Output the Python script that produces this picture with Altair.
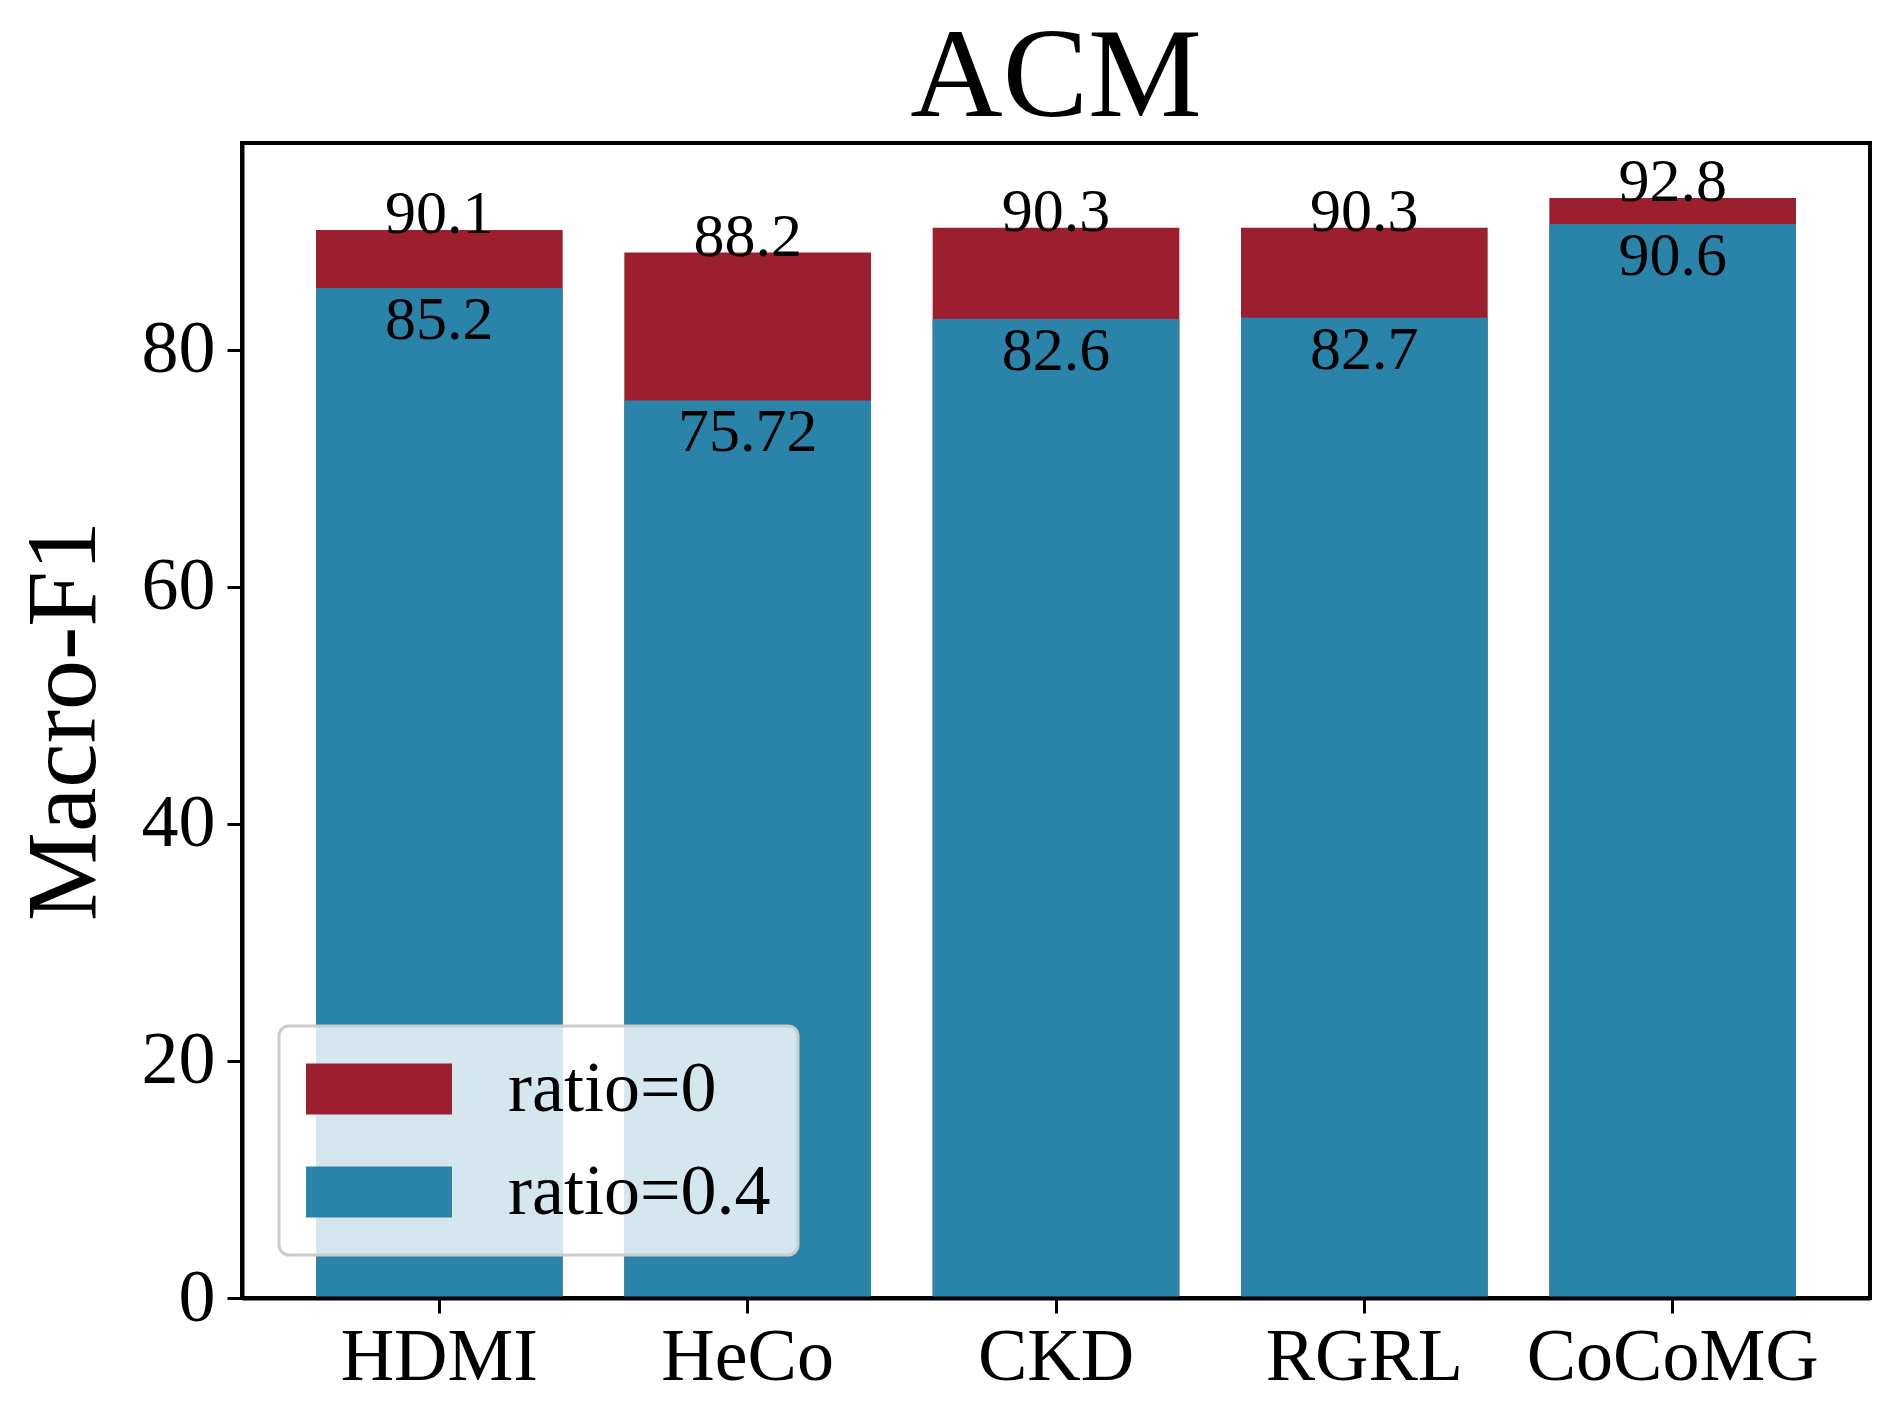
import altair as alt
import pandas as pd

methods = ["HDMI", "HeCo", "CKD", "RGRL", "CoCoMG"]
ratio0 = [90.1, 88.2, 90.3, 90.3, 92.8]
ratio04 = [85.2, 75.72, 82.6, 82.7, 90.6]
series_names = ["ratio=0", "ratio=0.4"]
series_colors = ["#9c1f30", "#2a84aa"]

rows = []
for m, v in zip(methods, ratio0):
    rows.append({"method": m, "series": "ratio=0", "value": v, "label": f"{v:g}"})
for m, v in zip(methods, ratio04):
    rows.append({"method": m, "series": "ratio=0.4", "value": v, "label": f"{v:g}"})
df = pd.DataFrame(rows)

FONT = "Liberation Serif"

x_enc = alt.X("method:N", sort=methods,
              scale=alt.Scale(paddingInner=0.2, paddingOuter=0.24),
              axis=alt.Axis(title=None, labelAngle=0, labelFontSize=74, labelFont=FONT,
                            labelColor="black", labelLimit=1000, tickSize=15, tickWidth=3,
                            tickColor="black", labelPadding=8, domainColor="black",
                            domainWidth=4, zindex=1))
y_enc = alt.Y("value:Q", stack=None,
              scale=alt.Scale(domain=[0, 97.44], nice=False),
              axis=alt.Axis(title="Macro-F1", values=[0, 20, 40, 60, 80], grid=False,
                            labelFontSize=74, labelFont=FONT, labelColor="black",
                            tickSize=15, tickWidth=3, tickColor="black", labelPadding=12,
                            titleFontSize=100, titleFont=FONT, titleFontWeight="normal",
                            titleColor="black", titlePadding=26, titleLimit=2000,
                            domainColor="black", domainWidth=4, zindex=1))

bars = alt.Chart(df).mark_bar().encode(
    x=x_enc,
    y=y_enc,
    color=alt.Color("series:N",
                    scale=alt.Scale(domain=series_names, range=series_colors),
                    legend=alt.Legend(title=None, orient="none", legendX=37, legendY=883,
                                      symbolType="M-14.6,-5.1L14.6,-5.1L14.6,5.1L-14.6,5.1Z",
                                      symbolSize=100, symbolStrokeWidth=0, symbolOpacity=1,
                                      symbolOffset=37, labelOffset=93, labelLimit=1000,
                                      labelFontSize=72, labelFont=FONT, labelColor="black",
                                      rowPadding=31, padding=27,
                                      fillColor="rgba(255,255,255,0.8)",
                                      strokeColor="#cccccc", cornerRadius=10)),
    order=alt.Order("series:N", sort="ascending"),
)

top_labels = alt.Chart(df).transform_filter(
    alt.datum.series == "ratio=0"
).mark_text(font=FONT, fontSize=62, baseline="alphabetic", dy=3, color="black").encode(
    x=alt.X("method:N", sort=methods),
    y=alt.Y("value:Q"),
    text="label:N",
)

low_labels = alt.Chart(df).transform_filter(
    alt.datum.series == "ratio=0.4"
).mark_text(font=FONT, fontSize=62, baseline="top", dy=2, color="black").encode(
    x=alt.X("method:N", sort=methods),
    y=alt.Y("value:Q"),
    text="label:N",
)

chart = alt.layer(bars, top_labels, low_labels).properties(
    width=1628,
    height=1155,
    background="white",
    title=alt.TitleParams("ACM", fontSize=128, font=FONT, fontWeight="normal",
                          color="black", anchor="middle", offset=0),
    autosize=alt.AutoSizeParams(type="none"),
    padding={"left": 234, "top": 135, "right": 20, "bottom": 121},
).configure_view(
    stroke="black", strokeWidth=4
).configure_legend(
    strokeWidth=3
)

chart.save("out.html", embed_options={"renderer": "svg", "actions": False})
